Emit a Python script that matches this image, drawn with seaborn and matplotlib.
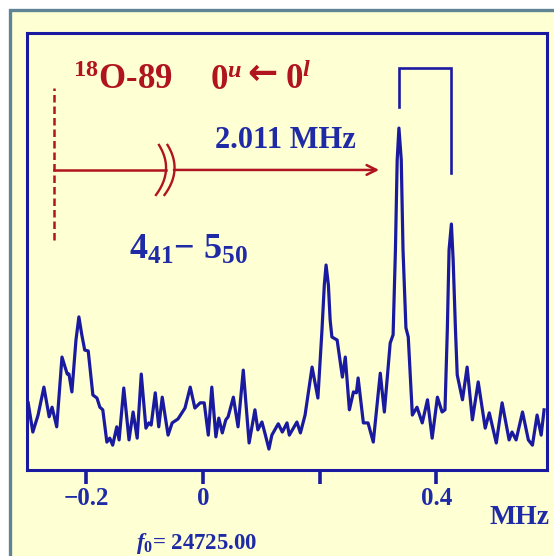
import numpy as np
import pandas as pd
import seaborn as sns
import matplotlib.pyplot as plt
from matplotlib.patches import Rectangle

# spectrum: frequency offset (MHz) and intensity (arb. units)
freq = [-0.300, -0.292, -0.283, -0.273, -0.264, -0.259, -0.251, -0.242, -0.233, -0.230,
        -0.225, -0.218, -0.213, -0.208, -0.203, -0.197, -0.189, -0.182, -0.177, -0.172,
        -0.165, -0.160, -0.155, -0.148, -0.144, -0.136, -0.127, -0.120, -0.113, -0.106,
        -0.098, -0.093, -0.089, -0.082, -0.076, -0.070, -0.060, -0.053, -0.043, -0.031,
        -0.022, -0.014, -0.005, 0.002, 0.009, 0.015, 0.022, 0.027, 0.033, 0.039,
        0.043, 0.052, 0.060, 0.069, 0.079, 0.089, 0.094, 0.101, 0.106, 0.113,
        0.118, 0.129, 0.136, 0.144, 0.148, 0.161, 0.167, 0.175, 0.187, 0.197,
        0.204, 0.208, 0.211, 0.215, 0.218, 0.221, 0.230, 0.239, 0.244, 0.251,
        0.258, 0.263, 0.266, 0.275, 0.283, 0.292, 0.304, 0.311, 0.321, 0.326,
        0.330, 0.333, 0.336, 0.340, 0.343, 0.348, 0.352, 0.359, 0.367, 0.376,
        0.385, 0.393, 0.402, 0.410, 0.415, 0.419, 0.422, 0.426, 0.429, 0.433,
        0.436, 0.445, 0.453, 0.462, 0.472, 0.484, 0.491, 0.503, 0.513, 0.525,
        0.530, 0.537, 0.548, 0.558, 0.565, 0.573, 0.580, 0.585]
intensity = [15.4, 8.7, 12.6, 19.0, 12.2, 14.4, 9.9, 25.9, 22.0, 22.0,
             17.9, 29.8, 35.1, 31.0, 27.5, 27.3, 17.2, 16.5, 14.4, 13.8,
             6.4, 7.3, 5.7, 9.9, 6.9, 18.8, 6.9, 13.3, 7.3, 22.0,
             9.6, 10.8, 10.3, 17.7, 9.9, 16.7, 8.0, 10.8, 11.7, 14.2,
             19.0, 14.2, 15.4, 15.4, 8.0, 19.0, 7.6, 11.9, 8.5, 11.5,
             12.2, 16.7, 9.9, 22.9, 6.2, 13.8, 9.2, 11.0, 8.5, 4.8,
             8.0, 10.6, 8.7, 10.8, 8.0, 11.0, 8.5, 12.6, 23.6, 16.5,
             32.1, 42.4, 47.0, 42.4, 34.4, 30.5, 29.8, 21.3, 25.9, 13.8,
             17.9, 17.7, 21.1, 10.8, 10.8, 6.4, 22.2, 13.3, 29.1, 31.0,
             50.5, 71.1, 78.4, 71.1, 50.5, 32.6, 30.5, 12.6, 14.4, 10.8,
             16.1, 7.3, 16.7, 13.3, 13.8, 32.1, 50.5, 56.4, 48.2, 32.1,
             21.8, 16.1, 23.6, 11.5, 20.2, 9.6, 13.1, 6.2, 15.4, 6.9,
             8.7, 6.9, 13.3, 6.9, 5.7, 12.6, 8.0, 13.8]

# the doublet marked by the bracket and the shifted origin line
doublet = [0.336, 0.426]
origin_line = -0.256
tick_pos = [-0.2, 0.0, 0.2, 0.4]
tick_lab = ["\u22120.2", "0", "", "0.4"]

df = pd.DataFrame({"freq": freq, "intensity": intensity})

navy = "#1a1aa0"
blue_txt = "#1f2aa6"
red = "#b0141e"
bg = "#ffffd4"

plt.rcParams["font.family"] = ["Liberation Serif", "DejaVu Serif"]
plt.rcParams["font.weight"] = "bold"
plt.rcParams["mathtext.fontset"] = "custom"
plt.rcParams["mathtext.rm"] = "Liberation Serif:bold"
plt.rcParams["mathtext.it"] = "Liberation Serif:italic:bold"
plt.rcParams["mathtext.bf"] = "Liberation Serif:bold"

W, H = 554, 556
fig = plt.figure(figsize=(W / 100, H / 100), dpi=100, facecolor="white")

# slide-like outer box
top = 1 - 9.5 / H
fig.patches.append(Rectangle((9.5 / W, -0.2), 1.2, top + 0.2,
                             transform=fig.transFigure, facecolor=bg, edgecolor="#5f8595",
                             lw=2.4, zorder=-5))

ax = fig.add_axes([27 / W, (H - 470) / H, (547 - 27) / W, (470 - 33) / H])
ax.set_facecolor("none")
ax.set_zorder(2)

sns.lineplot(data=df, x="freq", y="intensity", ax=ax, color=navy, lw=2.3, sort=False)

ax.set_xlim(-0.302, 0.590)
ax.set_ylim(0, 100.2)
ax.set_xlabel("")
ax.set_ylabel("")
ax.set_yticks([])
ax.set_xticks(tick_pos)
ax.set_xticklabels(tick_lab)
ax.tick_params(axis="x", direction="out", length=10, width=2.6, color=navy,
               labelcolor=blue_txt, labelsize=18, pad=2)
for s in ax.spines.values():
    s.set_color(navy)
    s.set_linewidth(2.2)

# bracket over the doublet
ax.plot([doublet[0], doublet[0], doublet[1], doublet[1]], [83.3, 92.2, 92.2, 68.1],
        color=navy, lw=1.9, solid_joinstyle="miter")

# dashed origin line and arrow with axis break
arrow_y = 68.8
ax.plot([origin_line, origin_line], [52.8, 87.6], color=red, lw=1.8, ls=(0, (3, 1.6)))
ax.plot([origin_line, -0.0635], [arrow_y, arrow_y], color=red, lw=1.8)
ax.annotate("", xy=(0.302, arrow_y), xytext=(-0.050, arrow_y),
            arrowprops=dict(arrowstyle="->,head_length=0.7,head_width=0.35",
                            color=red, lw=1.8, shrinkA=0, shrinkB=0))
# break marks: two thin curved strokes (pixel offsets turned into data units)
t = np.linspace(-1, 1, 40)
for x0 in [-0.0782, -0.0636]:
    bx = x0 + (8.5 * (1 - t ** 2) + 1.5 * t) * 0.2 / 116.5
    by = arrow_y + 25 * t / 4.36
    ax.plot(bx, by, color=red, lw=1.7)

# title pieces
ax.text(-0.223, 87.3, r"$^{18}$O-89", color=red, fontsize=25, ha="left", va="baseline")
ax.text(0.012, 87.3, r"0$^{u}$", color=red, fontsize=25, ha="left", va="baseline")
ax.text(0.075, 88.6, "\u2190", color=red, fontsize=26, ha="left", va="baseline",
        family="DejaVu Sans")
ax.text(0.141, 87.3, r"0$^{l}$", color=red, fontsize=25, ha="left", va="baseline")

ax.text(0.141, 73.9, "2.011 MHz", color=blue_txt, fontsize=22, ha="center", va="baseline")
ax.text(-0.127, 48.5, r"4$_{41}$" + "\u2212" + r" 5$_{50}$", color=blue_txt, fontsize=26,
        ha="left", va="baseline")

fig.text(520 / W, 1 - 518 / H, "MHz", color=blue_txt, fontsize=20, ha="center", va="center")
fig.text(197 / W, 1 - 544 / H, r"$f_0$= 24725.00", color=blue_txt, fontsize=16.5,
         ha="center", va="center")

fig.savefig("out.png", dpi=100)
